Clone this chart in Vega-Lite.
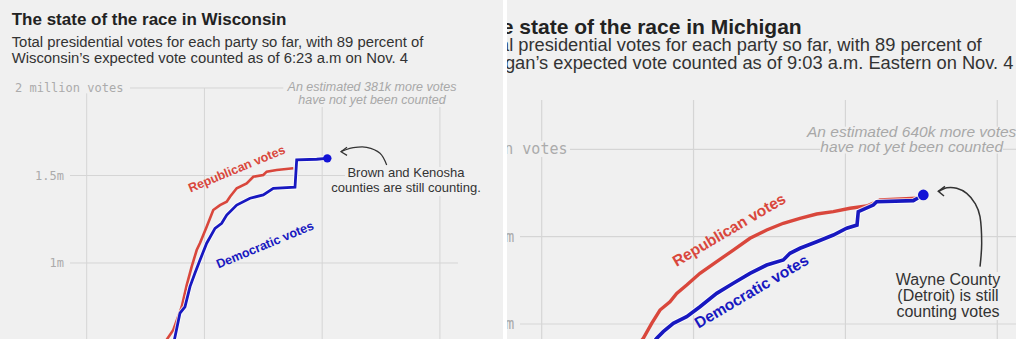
{
  "$schema": "https://vega.github.io/schema/vega-lite/v6.json",
  "padding": 0,
  "background": "#ffffff",
  "spacing": 4,
  "config": {
    "view": {"fill": "#f0f0f0", "stroke": null},
    "font": "Liberation Sans"
  },
  "datasets": {
    "wi_votes": [
      {"party": "Republican", "hour": 4.944, "votes": 0.531},
      {"party": "Republican", "hour": 5.206, "votes": 0.617},
      {"party": "Republican", "hour": 5.420, "votes": 0.749},
      {"party": "Republican", "hour": 5.548, "votes": 0.874},
      {"party": "Republican", "hour": 5.675, "votes": 0.979},
      {"party": "Republican", "hour": 5.803, "votes": 1.074},
      {"party": "Republican", "hour": 5.887, "votes": 1.114},
      {"party": "Republican", "hour": 6.057, "votes": 1.207},
      {"party": "Republican", "hour": 6.225, "votes": 1.303},
      {"party": "Republican", "hour": 6.396, "votes": 1.331},
      {"party": "Republican", "hour": 6.567, "votes": 1.350},
      {"party": "Republican", "hour": 6.651, "votes": 1.379},
      {"party": "Republican", "hour": 6.822, "votes": 1.427},
      {"party": "Republican", "hour": 7.076, "votes": 1.455},
      {"party": "Republican", "hour": 7.245, "votes": 1.493},
      {"party": "Republican", "hour": 7.499, "votes": 1.503},
      {"party": "Republican", "hour": 7.586, "votes": 1.522},
      {"party": "Republican", "hour": 7.841, "votes": 1.531},
      {"party": "Republican", "hour": 8.264, "votes": 1.541},
      {"party": "Democratic", "hour": 5.206, "votes": 0.531},
      {"party": "Democratic", "hour": 5.377, "votes": 0.714},
      {"party": "Democratic", "hour": 5.504, "votes": 0.750},
      {"party": "Democratic", "hour": 5.632, "votes": 0.865},
      {"party": "Democratic", "hour": 5.759, "votes": 0.943},
      {"party": "Democratic", "hour": 5.887, "votes": 1.017},
      {"party": "Democratic", "hour": 6.057, "votes": 1.113},
      {"party": "Democratic", "hour": 6.269, "votes": 1.198},
      {"party": "Democratic", "hour": 6.439, "votes": 1.227},
      {"party": "Democratic", "hour": 6.567, "votes": 1.274},
      {"party": "Democratic", "hour": 6.822, "votes": 1.331},
      {"party": "Democratic", "hour": 7.161, "votes": 1.370},
      {"party": "Democratic", "hour": 7.499, "votes": 1.389},
      {"party": "Democratic", "hour": 7.754, "votes": 1.427},
      {"party": "Democratic", "hour": 8.307, "votes": 1.433},
      {"party": "Democratic", "hour": 8.350, "votes": 1.589},
      {"party": "Democratic", "hour": 8.860, "votes": 1.593},
      {"party": "Democratic", "hour": 9.115, "votes": 1.598}
    ],
    "wi_dot": [{"party": "Democratic", "hour": 9.130, "votes": 1.598}],
    "wi_grid": [
      {"hour": 4.1032, "hour_end": 8.0089, "votes": 2, "votes_end": 2},
      {"hour": 2.5745, "hour_end": 9.581, "votes": 1.5, "votes_end": 1.5},
      {"hour": 2.5745, "hour_end": 12.4599, "votes": 1, "votes_end": 1},
      {"hour": 3, "hour_end": 3, "votes": 1.9697, "votes_end": 0.4},
      {"hour": 6, "hour_end": 6, "votes": 2, "votes_end": 0.4},
      {"hour": 9, "hour_end": 9, "votes": 1.8914, "votes_end": 0.4},
      {"hour": 12, "hour_end": 12, "votes": 1.8914, "votes_end": 1.5486},
      {"hour": 12, "hour_end": 12, "votes": 1.3829, "votes_end": 0.4}
    ],
    "wi_arrow": [
      {"hour": 10.643, "votes": 1.560},
      {"hour": 10.473, "votes": 1.627},
      {"hour": 10.134, "votes": 1.661},
      {"hour": 9.792, "votes": 1.659},
      {"hour": 9.538, "votes": 1.642},
      {"hour": 9.479, "votes": 1.636}
    ],
    "wi_arrowhead": [
      {"hour": 9.632, "votes": 1.661},
      {"hour": 9.479, "votes": 1.636},
      {"hour": 9.632, "votes": 1.615}
    ],
    "wi_title": [{"hour": 1.0892, "votes": 2.36, "label": "The state of the race in Wisconsin"}],
    "wi_subtitle": [
      {"hour": 1.0892, "votes": 2.2343, "label": "Total presidential votes for each party so far, with 89 percent of"},
      {"hour": 1.0892, "votes": 2.1411, "label": "Wisconsin’s expected vote counted as of 6:23 a.m on Nov. 4"}
    ],
    "wi_axis_top": [{"hour": 1.1732, "votes": 2, "label": "2 million votes"}],
    "wi_axis": [
      {"hour": 2.4217, "votes": 1.5, "label": "1.5m"},
      {"hour": 2.4217, "votes": 1, "label": "1m"}
    ],
    "wi_note_gray": [
      {"hour": 10.2688, "votes": 2.003, "label": "An estimated 381k more votes"},
      {"hour": 10.2688, "votes": 1.933, "label": "have not yet been counted"}
    ],
    "wi_note": [
      {"hour": 11.135, "votes": 1.5126, "label": "Brown and Kenosha"},
      {"hour": 11.135, "votes": 1.4303, "label": "counties are still counting."}
    ],
    "wi_series": [
      {"hour": 6.822, "votes": 1.537, "party": "Republican", "label": "Republican votes"},
      {"hour": 7.543, "votes": 1.103, "party": "Democratic", "label": "Democratic votes"}
    ],
    "mi_votes": [
      {"party": "Republican", "hour": 4.902, "votes": 0.759},
      {"party": "Republican", "hour": 5.007, "votes": 0.836},
      {"party": "Republican", "hour": 5.173, "votes": 1.008},
      {"party": "Republican", "hour": 5.337, "votes": 1.160},
      {"party": "Republican", "hour": 5.534, "votes": 1.255},
      {"party": "Republican", "hour": 5.667, "votes": 1.351},
      {"party": "Republican", "hour": 5.865, "votes": 1.446},
      {"party": "Republican", "hour": 6.127, "votes": 1.580},
      {"party": "Republican", "hour": 6.457, "votes": 1.713},
      {"party": "Republican", "hour": 6.785, "votes": 1.847},
      {"party": "Republican", "hour": 7.115, "votes": 1.981},
      {"party": "Republican", "hour": 7.445, "votes": 2.076},
      {"party": "Republican", "hour": 7.773, "votes": 2.153},
      {"party": "Republican", "hour": 8.103, "votes": 2.210},
      {"party": "Republican", "hour": 8.433, "votes": 2.259},
      {"party": "Republican", "hour": 8.761, "votes": 2.286},
      {"party": "Republican", "hour": 9.091, "votes": 2.325},
      {"party": "Republican", "hour": 9.420, "votes": 2.351},
      {"party": "Republican", "hour": 9.618, "votes": 2.400},
      {"party": "Republican", "hour": 9.683, "votes": 2.420},
      {"party": "Republican", "hour": 10.408, "votes": 2.439},
      {"party": "Democratic", "hour": 5.159, "votes": 0.759},
      {"party": "Democratic", "hour": 5.272, "votes": 0.836},
      {"party": "Democratic", "hour": 5.402, "votes": 0.912},
      {"party": "Democratic", "hour": 5.600, "votes": 1.008},
      {"party": "Democratic", "hour": 5.864, "votes": 1.084},
      {"party": "Democratic", "hour": 6.127, "votes": 1.198},
      {"party": "Democratic", "hour": 6.457, "votes": 1.351},
      {"party": "Democratic", "hour": 6.785, "votes": 1.466},
      {"party": "Democratic", "hour": 7.115, "votes": 1.580},
      {"party": "Democratic", "hour": 7.445, "votes": 1.675},
      {"party": "Democratic", "hour": 7.773, "votes": 1.733},
      {"party": "Democratic", "hour": 7.905, "votes": 1.809},
      {"party": "Democratic", "hour": 8.103, "votes": 1.867},
      {"party": "Democratic", "hour": 8.433, "votes": 1.942},
      {"party": "Democratic", "hour": 8.761, "votes": 2.019},
      {"party": "Democratic", "hour": 9.025, "votes": 2.096},
      {"party": "Democratic", "hour": 9.229, "votes": 2.133},
      {"party": "Democratic", "hour": 9.254, "votes": 2.286},
      {"party": "Democratic", "hour": 9.551, "votes": 2.362},
      {"party": "Democratic", "hour": 9.618, "votes": 2.400},
      {"party": "Democratic", "hour": 10.341, "votes": 2.412},
      {"party": "Democratic", "hour": 10.434, "votes": 2.442}
    ],
    "mi_dot": [{"party": "Democratic", "hour": 10.539, "votes": 2.477}],
    "mi_grid": [
      {"hour": 3.559, "hour_end": 8.498, "votes": 3, "votes_end": 3},
      {"hour": 12.113, "hour_end": 12.5, "votes": 3, "votes_end": 3},
      {"hour": 2.5713, "hour_end": 12.5, "votes": 2, "votes_end": 2},
      {"hour": 2.5713, "hour_end": 12.5, "votes": 1, "votes_end": 1},
      {"hour": 3, "hour_end": 3, "votes": 3.5644, "votes_end": 3.095},
      {"hour": 3, "hour_end": 3, "votes": 2.9118, "votes_end": 0.5},
      {"hour": 6, "hour_end": 6, "votes": 3.5644, "votes_end": 0.5},
      {"hour": 9, "hour_end": 9, "votes": 3.5644, "votes_end": 3.2587},
      {"hour": 9, "hour_end": 9, "votes": 2.9519, "votes_end": 0.5},
      {"hour": 12, "hour_end": 12, "votes": 3.5644, "votes_end": 3.2587},
      {"hour": 12, "hour_end": 12, "votes": 2.9519, "votes_end": 1.5953},
      {"hour": 12, "hour_end": 12, "votes": 1.0458, "votes_end": 0.5}
    ],
    "mi_arrow": [
      {"hour": 11.659, "votes": 1.656},
      {"hour": 11.692, "votes": 1.924},
      {"hour": 11.659, "votes": 2.228},
      {"hour": 11.560, "votes": 2.382},
      {"hour": 11.396, "votes": 2.496},
      {"hour": 11.198, "votes": 2.554},
      {"hour": 11.001, "votes": 2.560},
      {"hour": 10.869, "votes": 2.526},
      {"hour": 10.835, "votes": 2.519}
    ],
    "mi_arrowhead": [
      {"hour": 10.967, "votes": 2.576},
      {"hour": 10.835, "votes": 2.519},
      {"hour": 10.948, "votes": 2.465}
    ],
    "mi_title": [{"hour": 8.1363, "votes": 4.316, "label": "The state of the race in Michigan"}],
    "mi_subtitle": [
      {"hour": 11.692, "votes": 4.1288, "label": "Total presidential votes for each party so far, with 89 percent of"},
      {"hour": 12.318, "votes": 3.9159, "label": "Michigan’s expected vote counted as of 9:03 a.m. Eastern on Nov. 4"}
    ],
    "mi_axis_top": [{"hour": 3.5097, "votes": 3, "label": "3 million votes"}],
    "mi_axis": [
      {"hour": 2.4587, "votes": 2, "label": "2m"},
      {"hour": 2.4587, "votes": 1, "label": "1m"}
    ],
    "mi_note_gray": [
      {"hour": 10.309, "votes": 3.2015, "label": "An estimated 640k more votes"},
      {"hour": 10.309, "votes": 3.0298, "label": "have not yet been counted"}
    ],
    "mi_note": [
      {"hour": 11.0265, "votes": 1.5037, "label": "Wayne County"},
      {"hour": 11.0265, "votes": 1.3240, "label": "(Detroit) is still"},
      {"hour": 11.0265, "votes": 1.1408, "label": "counting votes"}
    ],
    "mi_series": [
      {"hour": 6.704, "votes": 2.076, "party": "Republican", "label": "Republican votes"},
      {"hour": 7.149, "votes": 1.370, "party": "Democratic", "label": "Democratic votes"}
    ]
  },
  "hconcat": [
    {
      "width": 503,
      "height": 339,
      "encoding": {
        "x": {"field": "hour", "type": "quantitative", "scale": {"domain": [0.7911, 13.6064], "nice": false, "zero": false}, "axis": null},
        "y": {"field": "votes", "type": "quantitative", "scale": {"domain": [0.5657, 2.5029], "nice": false, "zero": false}, "axis": null}
      },
      "layer": [
        {
          "data": {"name": "wi_grid"},
          "mark": {"type": "rule", "color": "#d5d5d5", "strokeWidth": 1, "clip": true},
          "encoding": {"x2": {"field": "hour_end"}, "y2": {"field": "votes_end"}}
        },
        {
          "data": {"name": "wi_votes"},
          "transform": [{"filter": "datum.party === 'Republican'"}],
          "mark": {"type": "line", "color": "#d9473c", "strokeWidth": 2.6, "clip": true},
          "encoding": {}
        },
        {
          "data": {"name": "wi_votes"},
          "transform": [{"filter": "datum.party === 'Democratic'"}],
          "mark": {"type": "line", "color": "#ffffff", "strokeWidth": 4.5, "opacity": 0.8, "clip": true},
          "encoding": {}
        },
        {
          "data": {"name": "wi_votes"},
          "transform": [{"filter": "datum.party === 'Democratic'"}],
          "mark": {"type": "line", "color": "#1818c0", "strokeWidth": 2.8, "clip": true},
          "encoding": {}
        },
        {
          "data": {"name": "wi_dot"},
          "mark": {"type": "point", "filled": true, "color": "#1212d6", "opacity": 1, "size": 70, "clip": true},
          "encoding": {}
        },
        {
          "data": {"name": "wi_arrow"},
          "mark": {"type": "line", "color": "#333333", "strokeWidth": 1.2, "interpolate": "cardinal", "clip": true},
          "encoding": {"order": {"value": null}}
        },
        {
          "data": {"name": "wi_arrowhead"},
          "mark": {"type": "line", "color": "#333333", "strokeWidth": 1.2, "clip": true},
          "encoding": {"order": {"value": null}}
        },
        {
          "data": {"name": "wi_title"},
          "mark": {"type": "text", "align": "left", "baseline": "alphabetic", "fontSize": 17, "fontWeight": "bold", "color": "#222222", "clip": true},
          "encoding": {"text": {"field": "label"}}
        },
        {
          "data": {"name": "wi_subtitle"},
          "mark": {"type": "text", "align": "left", "baseline": "alphabetic", "fontSize": 14.85, "color": "#333333", "clip": true},
          "encoding": {"text": {"field": "label"}}
        },
        {
          "data": {"name": "wi_axis_top"},
          "mark": {"type": "text", "align": "left", "baseline": "middle", "font": "DejaVu Sans Mono", "fontSize": 12, "color": "#ababab", "clip": true},
          "encoding": {"text": {"field": "label"}}
        },
        {
          "data": {"name": "wi_axis"},
          "mark": {"type": "text", "align": "right", "baseline": "middle", "font": "DejaVu Sans Mono", "fontSize": 12, "color": "#ababab", "clip": true},
          "encoding": {"text": {"field": "label"}}
        },
        {
          "data": {"name": "wi_note_gray"},
          "mark": {"type": "text", "align": "center", "baseline": "middle", "fontSize": 12.5, "fontStyle": "italic", "color": "#a8a8a8", "clip": true},
          "encoding": {"text": {"field": "label"}}
        },
        {
          "data": {"name": "wi_note"},
          "mark": {"type": "text", "align": "center", "baseline": "middle", "fontSize": 13, "color": "#333333", "clip": true},
          "encoding": {"text": {"field": "label"}}
        },
        {
          "data": {"name": "wi_series"},
          "mark": {"type": "text", "align": "center", "baseline": "middle", "fontSize": 12.5, "fontWeight": "bold", "angle": -22.5, "clip": true},
          "encoding": {
            "text": {"field": "label"},
            "color": {"field": "party", "type": "nominal", "scale": {"domain": ["Republican", "Democratic"], "range": ["#d9473c", "#1818c0"]}, "legend": null}
          }
        }
      ]
    },
    {
      "width": 509,
      "height": 339,
      "encoding": {
        "x": {"field": "hour", "type": "quantitative", "scale": {"domain": [2.3145, 12.3699], "nice": false, "zero": false}, "axis": null},
        "y": {"field": "votes", "type": "quantitative", "scale": {"domain": [0.8283, 4.7092], "nice": false, "zero": false}, "axis": null}
      },
      "layer": [
        {
          "data": {"name": "mi_grid"},
          "mark": {"type": "rule", "color": "#d5d5d5", "strokeWidth": 1.2, "clip": true},
          "encoding": {"x2": {"field": "hour_end"}, "y2": {"field": "votes_end"}}
        },
        {
          "data": {"name": "mi_votes"},
          "transform": [{"filter": "datum.party === 'Republican'"}],
          "mark": {"type": "line", "color": "#d9473c", "strokeWidth": 3.4, "clip": true},
          "encoding": {}
        },
        {
          "data": {"name": "mi_votes"},
          "transform": [{"filter": "datum.party === 'Democratic'"}],
          "mark": {"type": "line", "color": "#ffffff", "strokeWidth": 5.5, "opacity": 0.8, "clip": true},
          "encoding": {}
        },
        {
          "data": {"name": "mi_votes"},
          "transform": [{"filter": "datum.party === 'Democratic'"}],
          "mark": {"type": "line", "color": "#1818c0", "strokeWidth": 3.6, "clip": true},
          "encoding": {}
        },
        {
          "data": {"name": "mi_dot"},
          "mark": {"type": "point", "filled": true, "color": "#1212d6", "opacity": 1, "size": 115, "clip": true},
          "encoding": {}
        },
        {
          "data": {"name": "mi_arrow"},
          "mark": {"type": "line", "color": "#333333", "strokeWidth": 1.5, "interpolate": "cardinal", "clip": true},
          "encoding": {"order": {"value": null}}
        },
        {
          "data": {"name": "mi_arrowhead"},
          "mark": {"type": "line", "color": "#333333", "strokeWidth": 1.5, "clip": true},
          "encoding": {"order": {"value": null}}
        },
        {
          "data": {"name": "mi_title"},
          "mark": {"type": "text", "align": "right", "baseline": "alphabetic", "fontSize": 21, "fontWeight": "bold", "color": "#222222", "clip": true},
          "encoding": {"text": {"field": "label"}}
        },
        {
          "data": {"name": "mi_subtitle"},
          "mark": {"type": "text", "align": "right", "baseline": "alphabetic", "fontSize": 18.3, "color": "#333333", "clip": true},
          "encoding": {"text": {"field": "label"}}
        },
        {
          "data": {"name": "mi_axis_top"},
          "mark": {"type": "text", "align": "right", "baseline": "middle", "font": "DejaVu Sans Mono", "fontSize": 15, "color": "#ababab", "clip": true},
          "encoding": {"text": {"field": "label"}}
        },
        {
          "data": {"name": "mi_axis"},
          "mark": {"type": "text", "align": "right", "baseline": "middle", "font": "DejaVu Sans Mono", "fontSize": 15, "color": "#ababab", "clip": true},
          "encoding": {"text": {"field": "label"}}
        },
        {
          "data": {"name": "mi_note_gray"},
          "mark": {"type": "text", "align": "center", "baseline": "middle", "fontSize": 15.5, "fontStyle": "italic", "color": "#a8a8a8", "clip": true},
          "encoding": {"text": {"field": "label"}}
        },
        {
          "data": {"name": "mi_note"},
          "mark": {"type": "text", "align": "center", "baseline": "middle", "fontSize": 16, "color": "#333333", "clip": true},
          "encoding": {"text": {"field": "label"}}
        },
        {
          "data": {"name": "mi_series"},
          "mark": {"type": "text", "align": "center", "baseline": "middle", "fontSize": 15.5, "fontWeight": "bold", "angle": -30.5, "clip": true},
          "encoding": {
            "text": {"field": "label"},
            "color": {"field": "party", "type": "nominal", "scale": {"domain": ["Republican", "Democratic"], "range": ["#d9473c", "#1818c0"]}, "legend": null}
          }
        }
      ]
    }
  ]
}
